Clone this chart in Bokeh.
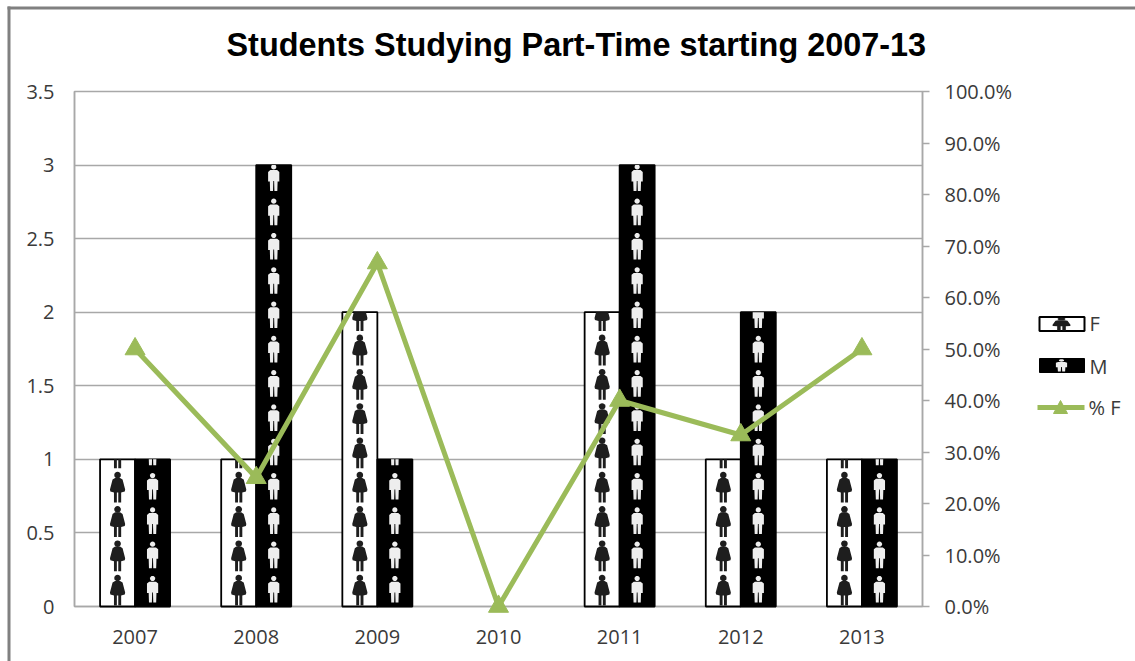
from bokeh.embed import file_html
from bokeh.resources import INLINE
from bokeh.plotting import figure
from bokeh.core.properties import value
from bokeh.models import FixedTicker, LinearAxis, NumeralTickFormatter, Range1d
import math

years = ["2007", "2008", "2009", "2010", "2011", "2012", "2013"]
female = [1, 1, 2, 0, 2, 1, 1]
male = [1, 3, 1, 0, 3, 2, 1]
pct_female = [0.5, 0.25, 0.667, 0.0, 0.4, 0.333, 0.5]
left_ticks = [0, 0.5, 1, 1.5, 2, 2.5, 3, 3.5]
right_ticks = [0, 0.1, 0.2, 0.3, 0.4, 0.5, 0.6, 0.7, 0.8, 0.9, 1.0]
legend_labels = ["F", "M", "% F"]

W, H = 1135, 661
L, R, T, B = 74, 922, 91, 606
PX_X = (R - L) / len(years)
PX_Y = (B - T) / 3.5
BAR_W = 0.289
PITCH = 34.3 / PX_Y  # height of one pictogram repeat, in value units
FONT = "Open Sans"
TEXT = "#3a3a3a"
GREEN = "#9BBB59"
GRID = "#a8a8a8"
WOMAN_INK = "#1e1e1e"
MAN_INK = "#eeeeee"


def circle_pts(cx, cy, r, n=16):
    return [(cx + r * math.cos(2 * math.pi * k / n), cy + r * math.sin(2 * math.pi * k / n)) for k in range(n)]


# Pictogram outlines in pixels: x from the centre line, y up from the foot.
WOMAN = [
    circle_pts(0, 27.5, 3.3),
    [(-2.5, 24.6), (2.5, 24.6), (5, 23), (7.6, 13), (7.2, 11), (3.6, 10), (3.6, 0), (0.7, 0), (0.7, 10), (-0.7, 10),
     (-0.7, 0), (-3.6, 0), (-3.6, 10), (-7.2, 11), (-7.6, 13), (-5, 23)],
]
MAN = [
    circle_pts(0, 24, 2.6),
    [(-3.4, 20.8), (3.4, 20.8), (5.6, 19), (5.6, 9.5), (3.9, 9.5), (3.6, 0), (0.7, 0), (0.4, 10), (-0.4, 10),
     (-0.7, 0), (-3.6, 0), (-3.9, 9.5), (-5.6, 9.5), (-5.6, 19)],
]


def clip_above(poly, limit):
    """Cut a polygon against a horizontal ceiling."""
    out = []
    for i, (x0, y0) in enumerate(poly):
        x1, y1 = poly[(i + 1) % len(poly)]
        if y0 <= limit:
            out.append((x0, y0))
        if (y0 <= limit) != (y1 <= limit):
            t = (limit - y0) / (y1 - y0)
            out.append((x0 + t * (x1 - x0), limit))
    return out


def stack_icons(centres, heights, shape, foot_px):
    xs, ys = [], []
    for cx, h in zip(centres, heights):
        k = 0
        while k * PITCH < h:
            base = k * PITCH + foot_px / PX_Y
            for part in shape:
                pts = [(cx + px / PX_X, base + py / PX_Y) for px, py in part]
                pts = clip_above(pts, h)
                if pts:
                    xs.append([q[0] for q in pts])
                    ys.append([q[1] for q in pts])
            k += 1
    return xs, ys


def to_x(px):
    return (px - L) / PX_X


def to_y(py):
    return (B - py) / PX_Y


centres = [i + 0.5 for i in range(len(years))]
f_x = [c - BAR_W / 2 for c, v in zip(centres, female) if v > 0]
f_h = [v for v in female if v > 0]
m_x = [c + BAR_W / 2 for c, v in zip(centres, male) if v > 0]
m_h = [v for v in male if v > 0]

p = figure(width=W, height=H, output_backend="svg", toolbar_location=None,
           x_range=Range1d(0, len(years)), y_range=Range1d(0, 3.5),
           min_border_left=L, min_border_right=W - R, min_border_top=T, min_border_bottom=H - B,
           background_fill_color="white", border_fill_color="white",
           outline_line_color=GRID, outline_line_width=1.5,
           title="Students Studying Part-Time starting 2007-13")

p.title.text_font = "Liberation Sans"
p.title.text_font_size = "32.4px"
p.title.text_font_style = "bold"
p.title.text_color = "#000000"
p.title.align = "left"
p.title.vertical_align = "top"
p.title.offset = 152
p.title.standoff = 53

p.xgrid.visible = False
p.ygrid.ticker = FixedTicker(ticks=left_ticks)
p.ygrid.grid_line_color = GRID
p.ygrid.grid_line_width = 1.5

p.xaxis.ticker = FixedTicker(ticks=centres)
p.xaxis.major_label_overrides = {c: y for c, y in zip(centres, years)}
p.yaxis.ticker = FixedTicker(ticks=left_ticks)
p.yaxis.formatter = NumeralTickFormatter(format="0.[0]")
for ax in (p.xaxis[0], p.yaxis[0]):
    ax.axis_line_color = GRID
    ax.axis_line_width = 1.5
    ax.major_tick_line_color = None
    ax.minor_tick_line_color = None
    ax.major_tick_in = 0
    ax.major_tick_out = 0
    ax.major_label_text_font = FONT
    ax.major_label_text_font_size = "20px"
    ax.major_label_text_color = TEXT
p.xaxis.major_label_standoff = 23
p.yaxis.major_label_standoff = 20

p.extra_y_ranges = {"pct": Range1d(0, 1)}
right_axis = LinearAxis(y_range_name="pct", ticker=FixedTicker(ticks=right_ticks),
                        formatter=NumeralTickFormatter(format="0.0%"))
right_axis.axis_line_color = GRID
right_axis.axis_line_width = 1.5
right_axis.major_tick_line_color = GRID
right_axis.major_tick_line_width = 1.5
right_axis.major_tick_in = 0
right_axis.major_tick_out = 7
right_axis.minor_tick_line_color = None
right_axis.major_label_standoff = 15
right_axis.major_label_text_font = FONT
right_axis.major_label_text_font_size = "20px"
right_axis.major_label_text_color = TEXT
p.add_layout(right_axis, "right")

# The overlay level keeps these glyphs from being cut at the plot frame,
# so the baseline triangle and the key beside the plot stay whole.
p.vbar(x=f_x, top=f_h, width=BAR_W, fill_color="white", line_color="black", line_width=1.8, level="overlay")
p.vbar(x=m_x, top=m_h, width=BAR_W, fill_color="black", line_color="black", line_width=1.8, level="overlay")

wx, wy = stack_icons(f_x, f_h, WOMAN, 1)
p.patches(wx, wy, fill_color=WOMAN_INK, line_color=None, level="overlay")
mx, my = stack_icons(m_x, m_h, MAN, 4)
p.patches(mx, my, fill_color=MAN_INK, line_color=None, level="overlay")

p.line(centres, pct_female, y_range_name="pct", line_color=GREEN, line_width=5, level="overlay")
p.scatter(centres, pct_female, y_range_name="pct", marker="triangle", size=20,
          fill_color=GREEN, line_color=GREEN, level="overlay")

# Key to the series
p.quad(left=[to_x(1039)], right=[to_x(1084)], top=[to_y(316.5)], bottom=[to_y(330.5)],
       fill_color="white", line_color="black", line_width=2, level="overlay")
p.quad(left=[to_x(1039)], right=[to_x(1084)], top=[to_y(358)], bottom=[to_y(372)],
       fill_color="black", line_color="black", line_width=1, level="overlay")
p.line([to_x(1037), to_x(1084)], [to_y(407), to_y(407)], line_color=GREEN, line_width=5, level="overlay")
p.patch([to_x(1053), to_x(1060), to_x(1067)], [to_y(413), to_y(400), to_y(413)],
        fill_color=GREEN, line_color=GREEN, level="overlay")


def swatch_icon(shape, cx, foot, sx, sy, color):
    # squat pictogram sitting on a key swatch; single patches are not culled outside the frame
    for part in shape:
        p.patch([to_x(cx + px * sx) for px, py in part], [to_y(foot - py * sy) for px, py in part],
                fill_color=color, line_color=None, level="overlay")


swatch_icon(WOMAN, 1061, 330, 1.2, 0.42, WOMAN_INK)
swatch_icon(MAN, 1061, 371, 1.0, 0.46, MAN_INK)

p.text([to_x(1089), to_x(1089), to_x(1088)], [to_y(323), to_y(366), to_y(407)], text=legend_labels,
       text_font=value(FONT), text_font_size="20px", text_color=TEXT, text_baseline="middle", level="overlay")

# Grey frame lines along the left and top edges of the sheet
p.quad(left=[to_x(7), to_x(7)], right=[to_x(10), to_x(W)], top=[to_y(6), to_y(6)], bottom=[to_y(H), to_y(9)],
       fill_color="#808080", line_color=None, level="overlay")

open("out.html", "w").write(file_html(p, INLINE))
